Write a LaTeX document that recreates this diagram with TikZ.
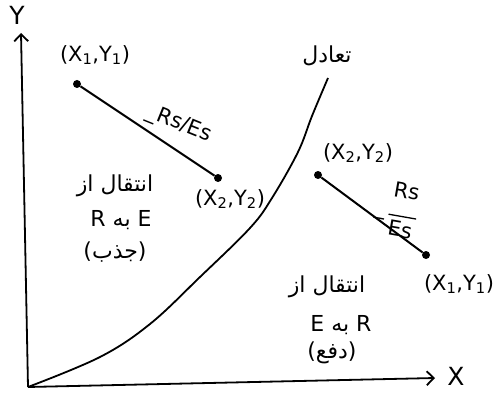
\documentclass[tikz,border=0pt]{standalone}
\usepackage{fontspec}
\setmainfont{DejaVu Sans}
\newfontfamily\fa[Script=Arabic]{DejaVu Sans}
\TeXXeTstate=1
\usetikzlibrary{arrows.meta}
\newcommand{\fatext}[1]{{\fa\beginR #1\endR}}
\begin{document}
\begin{tikzpicture}[x=1pt,y=-1pt,
  axis/.style={line width=1.8pt,-{Straight Barb[length=7pt,width=14pt,line width=1.8pt]}},
  seg/.style={line width=2pt},
  curve/.style={line width=1.8pt},
  dotnode/.style={circle,fill=black,inner sep=0pt,minimum size=8pt},
  lab/.style={font=\fontsize{21}{23}\selectfont,inner sep=1pt},
  falab/.style={font=\fontsize{22}{24}\selectfont,inner sep=1pt},
  axlab/.style={font=\fontsize{25}{27}\selectfont,inner sep=0pt}]
\useasboundingbox (0,0) rectangle (495,393);
% axes
\coordinate (O) at (28,387);
\coordinate (Ytop) at (21,33);
\coordinate (Xend) at (435,378);
\draw[axis] (O) -- (Ytop);
\draw[axis] (O) -- (Xend);
\node[axlab] (ylab) at (17,15) {Y};
\node[axlab] (xlab) at (456,376) {X};
% equilibrium curve
\draw[curve] plot[smooth,tension=0.6] coordinates {(28,387) (100,357) (150,324) (200,277) (250,228) (272,198) (298,152) (312,116) (328,78)};
\node[falab] (eq) at (327,56) {\fatext{تعادل}};
% left segment
\node[dotnode] (a1) at (77,84) {};
\node[dotnode] (a2) at (218,178) {};
\draw[seg] (a1) -- (a2);
\node[lab] (a1lab) at (95,55) {(X\textsubscript{1},Y\textsubscript{1})};
\node[lab] (a2lab) at (230,199) {(X\textsubscript{2},Y\textsubscript{2})};
\node[lab,rotate=-22] (slope1) at (179,124) {\_Rs/Es};
% right segment
\node[dotnode] (b1) at (318,175) {};
\node[dotnode] (b2) at (426,255) {};
\draw[seg] (b1) -- (b2);
\node[lab] (b1lab) at (358,153) {(X\textsubscript{2},Y\textsubscript{2})};
\node[lab] (b2lab) at (459,284) {(X\textsubscript{1},Y\textsubscript{1})};
\node[lab,rotate=-10] (slope2) at (396,212) {\_\,\begin{tabular}{@{}c@{}}Rs\\[-4pt]\rule{28pt}{1.3pt}\\[-3pt]Es\end{tabular}};
% left region text
\node[falab] (l1) at (115,186) {\fatext{انتقال از}};
\node[falab] (l2) at (121,220) {R \fatext{به} E};
\node[falab] (l3) at (115,252) {(\fatext{جذب})};
% right region text
\node[falab] (r1) at (327,287) {\fatext{انتقال از}};
\node[falab] (r2) at (341,325) {E \fatext{به} R};
\node[falab] (r3) at (332,353) {(\fatext{دفع})};
\end{tikzpicture}
\end{document}
